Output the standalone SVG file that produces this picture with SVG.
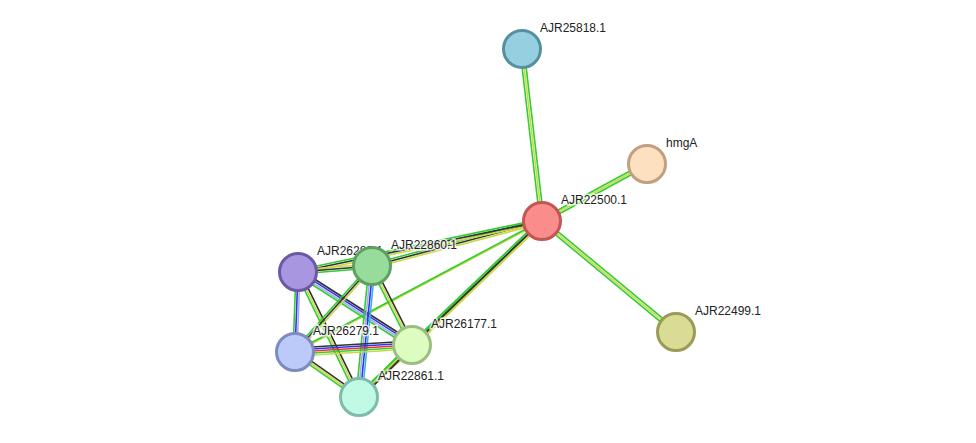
<svg xmlns="http://www.w3.org/2000/svg" width="976" height="443" viewBox="0 0 976 443">
<style>
line{stroke-width:1.6}
.g{stroke:#33cc33}.y{stroke:#c8d846}.k{stroke:#333}.b{stroke:#3333ee}.lb{stroke:#a8a8f8}.c{stroke:#33bbdd}.r{stroke:#ee3333}
circle{stroke-width:3}
text{font-family:"Liberation Sans",Arial,sans-serif;font-size:12px;fill:#222;stroke:#fff;stroke-width:3px;paint-order:stroke;stroke-opacity:0.8}
</style>
<rect width="976" height="443" fill="#fff"/>
<g id="edges">
<line class="g" x1="540" y1="221.24" x2="520" y2="49.24"/><line class="y" x1="542" y1="221" x2="522" y2="49"/><line class="g" x1="544" y1="220.76" x2="524" y2="48.76"/>
<line class="g" x1="541.04" y1="219.24" x2="646.04" y2="162.24"/><line class="y" x1="542" y1="221" x2="647" y2="164"/><line class="g" x1="542.96" y1="222.76" x2="647.96" y2="165.76"/>
<line class="g" x1="543.28" y1="219.46" x2="677.28" y2="330.46"/><line class="y" x1="542" y1="221" x2="676" y2="332"/><line class="g" x1="540.72" y1="222.54" x2="674.72" y2="333.54"/>
<line class="y" x1="542.52" y1="222.94" x2="372.52" y2="267.94"/><line class="k" x1="542" y1="221" x2="372" y2="266"/><line class="g" x1="541.48" y1="219.06" x2="371.48" y2="264.06"/>
<line class="y" x1="542.4" y1="222.96" x2="298.4" y2="273.96"/><line class="k" x1="542" y1="221" x2="298" y2="272"/><line class="g" x1="541.6" y1="219.04" x2="297.6" y2="270.04"/>
<line class="y" x1="543.38" y1="222.44" x2="413.38" y2="346.44"/><line class="k" x1="542" y1="221" x2="412" y2="345"/><line class="g" x1="540.62" y1="219.56" x2="410.62" y2="343.56"/>
<line class="y" x1="542.24" y1="221.44" x2="295.24" y2="352.44"/><line class="g" x1="541.76" y1="220.56" x2="294.76" y2="351.56"/>
<line class="y" x1="543.38" y1="222.44" x2="360.38" y2="398.44"/><line class="k" x1="542" y1="221" x2="359" y2="397"/><line class="g" x1="540.62" y1="219.56" x2="357.62" y2="395.56"/>
<line class="y" x1="297.84" y1="270" x2="371.84" y2="264"/><line class="k" x1="298" y1="272" x2="372" y2="266"/><line class="g" x1="298.16" y1="274" x2="372.16" y2="268"/>
<line class="lb" x1="300" y1="272.08" x2="297" y2="352.08"/><line class="b" x1="298" y1="272" x2="295" y2="352"/><line class="g" x1="296" y1="271.92" x2="293" y2="351.92"/>
<line class="k" x1="299.62" y1="269.48" x2="413.62" y2="342.48"/><line class="b" x1="298.54" y1="271.16" x2="412.54" y2="344.16"/><line class="lb" x1="297.46" y1="272.84" x2="411.46" y2="345.84"/><line class="g" x1="296.38" y1="274.52" x2="410.38" y2="347.52"/>
<line class="k" x1="299.8" y1="271.12" x2="360.8" y2="396.12"/><line class="y" x1="298" y1="272" x2="359" y2="397"/><line class="g" x1="296.2" y1="272.88" x2="357.2" y2="397.88"/>
<line class="y" x1="373.5" y1="267.34" x2="296.5" y2="353.34"/><line class="k" x1="372" y1="266" x2="295" y2="352"/><line class="g" x1="370.5" y1="264.66" x2="293.5" y2="350.66"/>
<line class="k" x1="373.78" y1="265.1" x2="413.78" y2="344.1"/><line class="y" x1="372" y1="266" x2="412" y2="345"/><line class="g" x1="370.22" y1="266.9" x2="410.22" y2="345.9"/>
<line class="c" x1="375" y1="266.3" x2="362" y2="397.3"/><line class="b" x1="373" y1="266.1" x2="360" y2="397.1"/><line class="lb" x1="371" y1="265.9" x2="358" y2="396.9"/><line class="g" x1="369" y1="265.7" x2="356" y2="396.7"/>
<line class="k" x1="294.76" y1="348" x2="411.76" y2="341"/><line class="b" x1="294.88" y1="350" x2="411.88" y2="343"/><line class="r" x1="295" y1="352" x2="412" y2="345"/><line class="g" x1="295.12" y1="354" x2="412.12" y2="347"/><line class="y" x1="295.24" y1="356" x2="412.24" y2="349"/>
<line class="k" x1="296.16" y1="350.36" x2="360.16" y2="395.36"/><line class="y" x1="295" y1="352" x2="359" y2="397"/><line class="g" x1="293.84" y1="353.64" x2="357.84" y2="398.64"/>
<line class="k" x1="413.4" y1="346.42" x2="360.4" y2="398.42"/><line class="y" x1="412" y1="345" x2="359" y2="397"/><line class="g" x1="410.6" y1="343.58" x2="357.6" y2="395.58"/>
</g>
<g id="n-AJR25818.1"><circle cx="522" cy="49" r="18.5" fill="#96d0e0" stroke="#5590a0"/><text x="540" y="32">AJR25818.1</text></g>
<g id="n-hmgA"><circle cx="647" cy="164" r="18.5" fill="#fde0c0" stroke="#bfa07f"/><text x="666" y="147">hmgA</text></g>
<g id="n-AJR22500.1"><circle cx="542" cy="221" r="18.5" fill="#fa8c8c" stroke="#c45555"/><text x="561" y="204">AJR22500.1</text></g>
<g id="n-AJR22499.1"><circle cx="676" cy="332" r="18.5" fill="#d9dc95" stroke="#9a9c55"/><text x="695" y="315">AJR22499.1</text></g>
<g id="n-AJR26280.1"><circle cx="298" cy="272" r="18.5" fill="#a897e0" stroke="#6a5aa5"/><text x="317" y="255">AJR26280.1</text></g>
<g id="n-AJR22860.1"><circle cx="372" cy="266" r="18.5" fill="#98dc9c" stroke="#5ea062"/><text x="391" y="249">AJR22860.1</text></g>
<g id="n-AJR26279.1"><circle cx="295" cy="352" r="18.5" fill="#bccafa" stroke="#7d8cbd"/><text x="313" y="335">AJR26279.1</text></g>
<g id="n-AJR26177.1"><circle cx="412" cy="345" r="18.5" fill="#dcfcc0" stroke="#9dbe82"/><text x="431" y="328">AJR26177.1</text></g>
<g id="n-AJR22861.1"><circle cx="359" cy="397" r="18.5" fill="#c0fae4" stroke="#7dbcaa"/><text x="378" y="380">AJR22861.1</text></g>
</svg>
